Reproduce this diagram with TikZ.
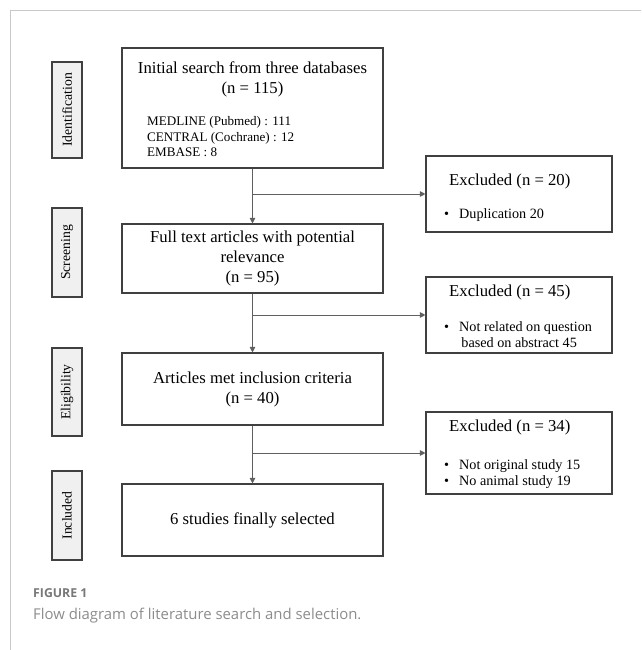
\documentclass[tikz,border=0pt]{standalone}
\usepackage{fontspec}
\setmainfont{Liberation Serif}
\newfontfamily\capfont{Open Sans}
\usetikzlibrary{arrows.meta}
\definecolor{frame}{RGB}{200,200,200}
\definecolor{boxline}{RGB}{64,64,64}
\definecolor{arrline}{RGB}{96,96,96}
\definecolor{sidefill}{RGB}{240,240,240}
\definecolor{capgray}{RGB}{120,120,120}
\definecolor{capgray2}{RGB}{140,140,140}
\tikzset{
  mainbox/.style={draw=boxline, line width=1.1pt, minimum width=261pt, inner sep=0pt, font=\fontsize{16.7}{20}\selectfont, align=center},
  exbox/.style={draw=boxline, line width=1.1pt, minimum width=186pt, inner sep=0pt},
  sidebox/.style={draw=boxline, line width=1.4pt, fill=sidefill, minimum width=30pt, inner sep=0pt},
  sidelabel/.style={rotate=90, font=\fontsize{13.7}{16}\selectfont, inner sep=0pt},
  extitle/.style={anchor=west, font=\fontsize{16.7}{20}\selectfont, inner sep=0pt},
  exitem/.style={anchor=north west, font=\fontsize{14.2}{16}\selectfont, inner sep=0pt, align=left},
  arr/.style={draw=arrline, line width=0.9pt, -{Triangle[length=5.5pt,width=5.5pt]}},
  line/.style={draw=arrline, line width=0.9pt}
}
\begin{document}
\begin{tikzpicture}[x=1pt,y=-1pt]
\useasboundingbox (0,0) rectangle (641,650);
% frame
\draw[frame, line width=1pt] (10,650) -- (10,11) -- (641,11);

% side boxes
\node[sidebox, minimum height=96pt] (s1) at (67,110) {};
\node[sidelabel] (s1t) at (s1.center) {Identification};
\node[sidebox, minimum height=89pt] (s2) at (67,252.5) {};
\node[sidelabel] (s2t) at (s2.center) {Screening};
\node[sidebox, minimum height=88pt] (s3) at (67,392) {};
\node[sidelabel] (s3t) at (s3.center) {Eligibility};
\node[sidebox, minimum height=89pt] (s4) at (67,515.5) {};
\node[sidelabel] (s4t) at (s4.center) {Included};

% main boxes
\node[mainbox, minimum height=120pt] (b1) at (252.5,108) {};
\node[font=\fontsize{16.7}{20}\selectfont, align=center, inner sep=0pt] (b1t) at (252.5,79) {Initial search from three databases\\(n = 115)};
\node[font=\fontsize{13.1}{15.5}\selectfont, align=left, anchor=west, inner sep=0pt] (b1l) at (147,137) {MEDLINE (Pubmed) : 111\\CENTRAL (Cochrane) : 12\\EMBASE : 8};

\node[mainbox, minimum height=69pt] (b2) at (252.5,258.5) {Full text articles with potential\\relevance\\(n = 95)};
\node[mainbox, minimum height=72pt] (b3) at (252.5,389) {Articles met inclusion criteria\\(n = 40)};
\node[mainbox, minimum height=72pt] (b4) at (252.5,520) {6 studies finally selected};

% excluded boxes
\node[exbox, minimum height=76pt] (e1) at (519,194) {};
\node[extitle] (e1t) at (449,181) {Excluded (n = 20)};
\node[exitem] (e1l) at (444,208) {\textbullet\hspace{10pt}Duplication 20};

\node[exbox, minimum height=76pt] (e2) at (519,315) {};
\node[extitle] (e2t) at (449,292) {Excluded (n = 45)};
\node[exitem] (e2l) at (444,321) {\textbullet\hspace{10pt}Not related on question\\\hspace*{17.2pt}based on abstract 45};

\node[exbox, minimum height=82pt] (e3) at (519,453) {};
\node[extitle] (e3t) at (449,427) {Excluded (n = 34)};
\node[exitem] (e3l) at (444,459) {\textbullet\hspace{10pt}Not original study 15\\\textbullet\hspace{10pt}No animal study 19};

% connectors
\draw[arr] (b1.south) -- (b2.north);
\draw[arr] (b1.south |- e1.west) -- (e1.west);
\draw[arr] (b2.south) -- (b3.north);
\draw[arr] (b2.south |- e2.west) -- (e2.west);
\draw[arr] (b3.south) -- (b4.north);
\draw[arr] (b3.south |- e3.west) -- (e3.west);

% caption
\node[anchor=west, inner sep=0pt, text=capgray, font=\capfont\bfseries\fontsize{12.3}{15}\selectfont] (cap1) at (33,593) {FIGURE 1};
\node[anchor=west, inner sep=0pt, text=capgray2, font=\capfont\fontsize{14.9}{18}\selectfont] (cap2) at (33,616) {Flow diagram of literature search and selection.};
\end{tikzpicture}
\end{document}
